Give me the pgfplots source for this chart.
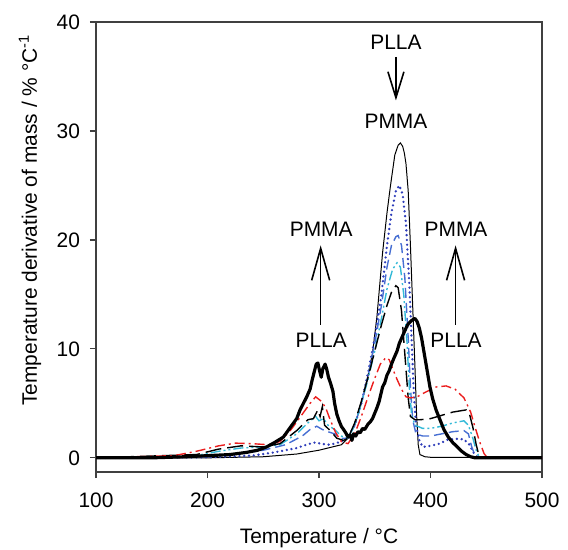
\documentclass[border=0pt]{standalone}
\usepackage{fontspec}
\setmainfont{Liberation Sans}
\usepackage{pgfplots}
\pgfplotsset{compat=1.18}
\usetikzlibrary{arrows.meta}
\definecolor{cdot}{RGB}{45,60,185}
\definecolor{cdash}{RGB}{70,110,210}
\definecolor{ccyan}{RGB}{50,185,215}
\definecolor{cred}{RGB}{235,30,30}
\begin{document}
\begin{tikzpicture}[font=\fontsize{10.5}{12.6}\selectfont]
\begin{axis}[name=ax,
  scale only axis, width=223bp, height=225bp,
  xmin=100, xmax=500, ymin=-1.3, ymax=40,
  xtick={100,200,300,400,500}, ytick={0,10,20,30,40},
  minor tick num=0,
  tick align=outside, tick pos=left,
  major tick length=3bp,
  axis line style={line width=0.6pt, black!75},
  tick style={line width=0.6pt, black!75},
  /pgf/number format/assume math mode=true,
  ticklabel style={font=\fontsize{10.5}{12.6}\selectfont},
  xticklabel style={yshift=-4bp},
  yticklabel style={xshift=-1.5bp},
  xlabel={Temperature / °C},
  ylabel={Temperature derivative of mass / \% °C\textsuperscript{-1}},
  every axis x label/.style={at={(axis description cs:0.5,-0.147)}, anchor=center},
  every axis y label/.style={at={(axis description cs:-0.148,0.56)}, anchor=center, rotate=90},
  clip=true,
]
% thin black
\addplot[black, line width=0.5pt] coordinates {
(100,0) (200,0) (250,0.1) (280,0.35) (300,0.7) (310,0.95) (320,1.2) (326,1.8) (332,3) (336,4.3) (340,5.8) (344,7.6) (348,9.6) (352,13) (357,18.8) (361,22.5) (364,24.9) (368,27.8) (371,28.7) (373,28.9) (375,28.6) (376.5,28.0) (378,27) (380,24.5) (382,19.5) (384,14) (386,8.5) (387.5,4) (389,1.2) (390.5,0.3) (395,0.1) (400,0.05) (500,0)};
% blue dotted
\addplot[cdot, line width=1.3pt, line cap=round, dash pattern=on 0pt off 2.4pt] coordinates {
(100,0) (200,0.05) (240,0.2) (260,0.5) (280,0.9) (290,1.25) (296,1.4) (302,1.3) (308,1.2) (314,1.3) (320,1.5) (326,1.9) (332,3) (338,5) (344,7.8) (350,11) (356,15) (361,19.5) (365,22.5) (369,24.5) (372,25) (375,24.2) (378,21.5) (381,16) (383,11) (385,6) (387,3) (390,1.6) (393,1.0) (400,1.1) (408,1.3) (415,1.65) (422,1.75) (430,1.7) (435,1.2) (439,0.4) (443,0) (500,0)};
% blue dashed
\addplot[cdash, line width=0.7pt, dash pattern=on 5bp off 2.5bp] coordinates {
(100,0) (200,0.1) (230,0.4) (250,0.7) (270,1.2) (285,2) (292,2.6) (298,2.9) (303,2.6) (308,2.4) (314,2.2) (320,1.8) (326,1.8) (332,3) (338,5) (344,7.5) (350,10.5) (356,14) (361,17.5) (365,19.5) (369,20.3) (371,20.4) (374,19.5) (377,16.5) (380,11) (382,6.5) (384,3.5) (387,2.2) (393,2.0) (400,2.0) (410,2.2) (420,2.4) (430,2.5) (434,2.2) (437,1.0) (440,0.2) (443,0) (500,0)};
% cyan dash-dot-dot
\addplot[ccyan, line width=0.7pt, dash pattern=on 5bp off 1.5bp on 1bp off 1.5bp on 1bp off 1.5bp] coordinates {
(100,0) (190,0.2) (210,0.6) (230,0.9) (250,1.0) (265,1.2) (280,2.2) (290,3.2) (297,3.8) (300,3.4) (304,3.6) (308,3.0) (314,2.6) (320,2.0) (326,1.8) (332,3) (338,5) (344,7.2) (350,9.8) (356,12.8) (361,15.5) (366,17.3) (370,17.9) (373,17.5) (376,15) (379,10.5) (381,6.5) (383,4) (386,3) (393,2.7) (400,2.7) (410,2.9) (420,3.2) (430,3.4) (434,3.0) (438,1.8) (441,0.7) (444,0) (500,0)};
% black long dashed
\addplot[black, line width=0.7pt, dash pattern=on 8bp off 3bp] coordinates {
(100,0) (190,0.3) (210,0.8) (230,1.1) (250,1.0) (265,1.3) (280,2.5) (290,3.5) (295,3.6) (299,4.4) (301,3.8) (303,4.7) (305,3.0) (310,2.5) (316,1.8) (322,1.6) (326,1.8) (332,3.2) (338,5.2) (344,7.4) (350,9.8) (356,12.2) (361,14) (365,15.2) (369,15.8) (371,15.6) (374,13.5) (377,9.5) (380,5.5) (382,3.8) (386,3.5) (391,3.5) (400,3.6) (410,3.9) (420,4.2) (432,4.4) (435,4.0) (438,2.8) (441,1.2) (444,0) (500,0)};
% red dash-dot
\addplot[cred, line width=0.7pt, dash pattern=on 5bp off 2bp on 1bp off 2bp] coordinates {
(100,0) (170,0.2) (190,0.6) (210,1.1) (225,1.35) (240,1.3) (255,1.2) (265,1.5) (275,2.6) (285,4.0) (292,5.0) (297,5.6) (302,5.2) (306,4.6) (310,3.5) (315,2.3) (320,1.5) (326,1.3) (332,2.2) (338,3.8) (344,5.6) (350,7.3) (355,8.6) (360,9.2) (363,9.0) (366,8.2) (370,7.2) (374,6.3) (378,5.6) (382,5.5) (388,5.6) (395,6.0) (405,6.5) (414,6.6) (422,6.3) (430,5.5) (436,4.2) (440,2.8) (444,1.5) (448,0.4) (451,0) (500,0)};
% thick black
\addplot[black, line width=1.6pt, line join=round] coordinates {
(100,0) (150,0) (180,0.1) (200,0.2) (220,0.3) (235,0.5) (245,0.7) (253,1.0) (260,1.4) (268,1.9) (275,2.9) (280,3.6) (283,4.4) (286,5.0) (289,5.6) (292,6.3) (294,7.2) (296,8.0) (297.5,8.6) (299,8.7) (300.5,8.0) (302,7.4) (303.5,8.2) (305.5,8.6) (307,8.1) (308.5,7.4) (310.5,6.8) (312.5,6.1) (314,5.0) (316,4.0) (318,3.4) (320,2.9) (322,2.6) (324,2.3) (326,1.9) (328,2.1) (329.5,1.6) (331,2.2) (333,2.0) (335,2.4) (337,2.3) (339,2.7) (341,2.6) (344,3.1) (346,3.3) (348,3.6) (350,4.1) (352,4.6) (354,5.2) (357,6.5) (359,6.9) (361,7.6) (363,8.0) (365,8.6) (367,9.1) (370,9.8) (372,10.5) (375,11.2) (378,11.9) (380,12.3) (383,12.6) (386,12.8) (388,12.5) (390,11.9) (392,11.0) (394,9.8) (396,8.6) (399.5,6.5) (402,5.4) (405,4.4) (408.5,3.5) (412,2.6) (416,1.9) (420,1.4) (424,1.0) (428,0.6) (432,0.3) (436,0.1) (440,0) (500,0)};
% annotations
\node[anchor=center] at (axis cs:369,38.1) {PLLA};
\draw[line width=0.8pt, -{Straight Barb[length=13bp,width=8bp]}] (axis cs:369,36.8) -- (axis cs:369,32.8);
\node[anchor=center] at (axis cs:369,30.9) {PMMA};
\node[anchor=center] at (axis cs:302,21.0) {PMMA};
\draw[line width=0.8pt, -{Straight Barb[length=16bp,width=9bp]}] (axis cs:301.5,12.2) -- (axis cs:301.5,19.5);
\node[anchor=center] at (axis cs:302,10.8) {PLLA};
\node[anchor=center] at (axis cs:422.9,21.0) {PMMA};
\draw[line width=0.8pt, -{Straight Barb[length=16bp,width=9bp]}] (axis cs:422.5,12.2) -- (axis cs:422.5,19.5);
\node[anchor=center] at (axis cs:422.9,10.8) {PLLA};
\end{axis}
\pgfresetboundingbox
\path ([shift={(-48bp,-39bp)}]ax.south west) rectangle ([shift={(13bp,11bp)}]ax.north east);
\end{tikzpicture}
\end{document}
